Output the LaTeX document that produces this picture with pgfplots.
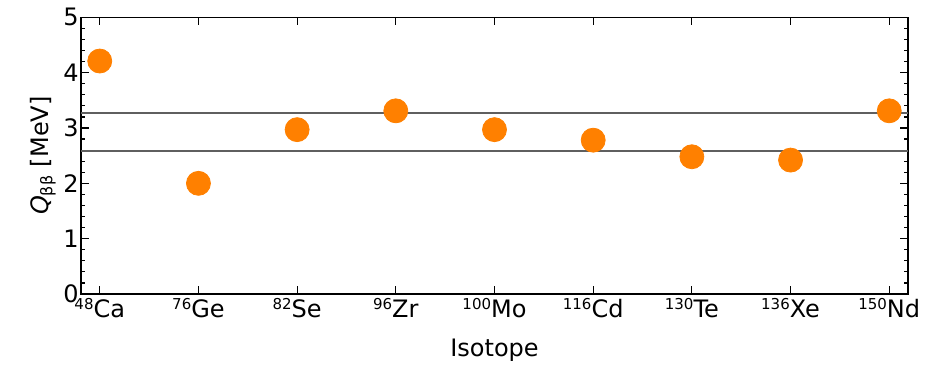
\documentclass[border=0pt]{standalone}
\usepackage{fontspec}
\setmainfont{DejaVu Sans}
\usepackage{pgfplots}
\pgfplotsset{compat=1.18}
\definecolor{ptorange}{RGB}{255,128,0}
\definecolor{refline}{RGB}{95,95,95}
\newcommand{\lblfont}{\fontsize{12pt}{14pt}\selectfont}
% isotope name with its mass number as a small raised prefix
\newcommand{\iso}[2]{\raisebox{0.62ex}{\fontsize{7.5pt}{8pt}\selectfont #1}#2}
\begin{document}
\begin{tikzpicture}
\useasboundingbox (-40.5pt,-36pt) rectangle (423pt,147pt);
\begin{axis}[
  at={(0,0)}, anchor=south west,
  scale only axis, width=413.5pt, height=138.35pt,
  xmin=-0.19, xmax=8.19, ymin=0, ymax=5,
  xtick={0,...,8},
  xticklabels={\iso{48}{Ca},\iso{76}{Ge},\iso{82}{Se},\iso{96}{Zr},\iso{100}{Mo},\iso{116}{Cd},\iso{130}{Te},\iso{136}{Xe},\iso{150}{Nd}},
  ytick={0,...,5}, minor y tick num=4,
  tick align=inside,
  major tick length=4pt, minor tick length=2pt,
  axis line style={line width=0.75pt},
  every tick/.style={black, line width=0.6pt},
  /pgf/number format/assume math mode=true,
  every tick label/.append style={font=\lblfont, text=black},
  yticklabel style={inner xsep=1pt},
  xticklabel style={inner ysep=2pt},
  xlabel={Isotope},
  ylabel={{\itshape Q}\textsubscript{ββ} [MeV]},
  label style={font=\lblfont},
  xlabel style={at={(axis description cs:0.5,0)}, anchor=center, yshift=-28pt},
  ylabel style={at={(axis description cs:-0.046,0.5)}, anchor=center},
]
% reference energy levels
\addplot[refline, line width=0.9pt] coordinates {(-0.19,3.27) (8.19,3.27)};
\addplot[refline, line width=0.9pt] coordinates {(-0.19,2.58) (8.19,2.58)};
% Q values of the double-beta isotopes
\addplot[only marks, mark=*, mark size=6pt, color=ptorange, mark options={draw=none, fill=ptorange}]
  coordinates {
    (0,4.21) (1,2.00) (2,2.97) (3,3.31) (4,2.97)
    (5,2.78) (6,2.48) (7,2.42) (8,3.31)
  };
\end{axis}
\end{tikzpicture}
\end{document}
